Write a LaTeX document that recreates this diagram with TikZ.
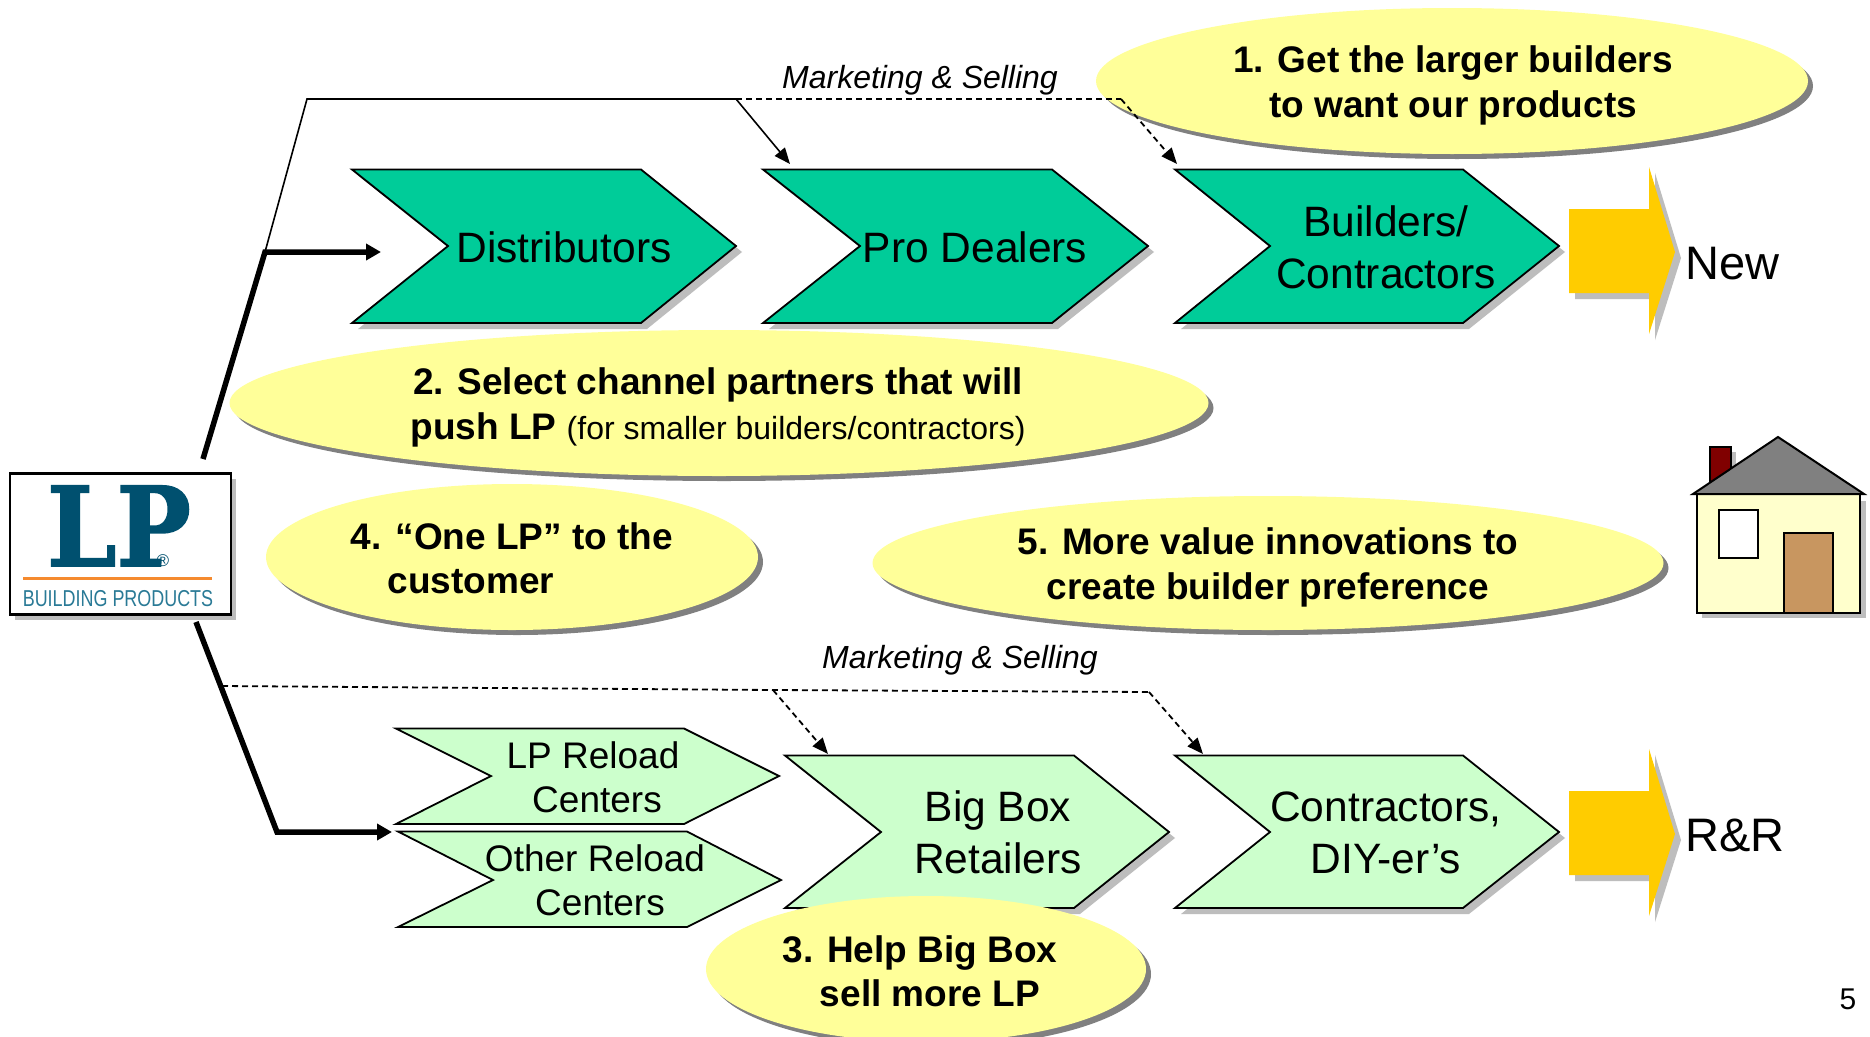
\documentclass[tikz,border=0pt]{standalone}
\usepackage{fontspec}
\setmainfont{Liberation Sans}
\newfontfamily\lpfont[BoldFeatures={FakeBold=1.5}]{DejaVu Serif}
\usetikzlibrary{arrows.meta,shapes.geometric,shadows}
\definecolor{teal1}{HTML}{00CC99}
\definecolor{mint}{HTML}{CCFFCC}
\definecolor{bubble}{HTML}{FFFF99}
\definecolor{gold}{HTML}{FFCC00}
\definecolor{shadowgray}{HTML}{BDBDBD}
\definecolor{lpblue}{HTML}{00506F}
\definecolor{lptext}{HTML}{2A7A96}
\definecolor{lporange}{HTML}{F58A2E}
\definecolor{cream}{HTML}{FFFFCC}
\definecolor{doorc}{HTML}{C89660}
\definecolor{chimney}{HTML}{800000}
\tikzset{
 x=1pt,y=-1pt,
 chevline/.style={draw=black,line width=1.8pt,line join=miter},
 bubblenode/.style={ellipse,fill=bubble,inner sep=0pt,
   drop shadow={shadow xshift=5pt,shadow yshift=-5pt,fill=black!50,opacity=1}},
 labelbig/.style={font=\fontsize{42.5}{51.5}\selectfont,align=center,inner sep=0pt},
 labelmid/.style={font=\fontsize{37}{44}\selectfont,align=center,inner sep=0pt},
 labelbold/.style={font=\fontsize{37}{45}\selectfont\bfseries,align=center,inner sep=0pt},
 labelit/.style={font=\fontsize{32}{38}\selectfont\itshape,inner sep=0pt},
 labelend/.style={font=\fontsize{47}{55}\selectfont,inner sep=0pt,anchor=base west},
 thickline/.style={line width=5.5pt,line join=miter},
 thinline/.style={line width=1.6pt},
 dashline/.style={line width=1.8pt,dash pattern=on 6pt off 4pt},
 bigtip/.style={-{Triangle[length=15pt,width=16pt]}},
 smalltip/.style={-{Triangle[length=16pt,width=13pt]}},
}
% left, notch, topright, tip, top, mid, bottom
\newcommand{\chevshadow}[7]{\fill[shadowgray] (#1+6,#5+6) -- (#3+6,#5+6) -- (#4+6,#6+6) -- (#3+6,#7+6) -- (#1+6,#7+6) -- (#2+6,#6+6) -- cycle;}
\newcommand{\chevbody}[8]{\path[chevline,fill=#8] (#1,#5) -- (#3,#5) -- (#4,#6) -- (#3,#7) -- (#1,#7) -- (#2,#6) -- cycle;}
\newcommand{\goldarrow}[1]{%
 \begin{scope}[shift={(0,#1)}]
 \fill[shadowgray] (1575,215) -- (1655,215) -- (1655,173) -- (1681,258) -- (1655,340) -- (1655,299) -- (1575,299) -- cycle;
 \fill[gold] (1569,209) -- (1649,209) -- (1649,167) -- (1675,252) -- (1649,334) -- (1649,293) -- (1569,293) -- cycle;
 \end{scope}}
\begin{document}
\begin{tikzpicture}
\useasboundingbox (0,0) rectangle (1870,1036);
\fill[white] (0,0) rectangle (1870,1036);

% chevrons, top row
\chevshadow{352}{448}{641}{736}{169.5}{246}{323}
\chevshadow{763}{860}{1052}{1148}{169.5}{246}{323}
\chevshadow{1175}{1270}{1463}{1559}{169.5}{246}{323}
\chevbody{352}{448}{641}{736}{169.5}{246}{323}{teal1}
\chevbody{763}{860}{1052}{1148}{169.5}{246}{323}{teal1}
\chevbody{1175}{1270}{1463}{1559}{169.5}{246}{323}{teal1}
\node[labelbig,anchor=base] (dist) at (564,262) {Distributors};
\node[labelbig,anchor=base] (pro) at (975,262) {Pro Dealers};
\node[labelbig,anchor=base] (build) at (1386,288) {Builders/\\Contractors};

% chevrons, bottom row
\chevbody{396}{491}{684}{779}{728.5}{776}{824}{mint}
\chevbody{398}{493}{687}{781}{831.5}{880}{927}{mint}
\chevshadow{785}{881}{1074}{1169}{755.5}{832}{908}
\chevshadow{1175}{1270}{1463}{1559}{755.5}{832}{908}
\chevbody{785}{881}{1074}{1169}{755.5}{832}{908}{mint}
\chevbody{1175}{1270}{1463}{1559}{755.5}{832}{908}{mint}
\node[labelmid,anchor=base] (lprel) at (593,768) {LP Reload};
\node[labelmid,anchor=base] (lpcen) at (597,812) {Centers};
\node[labelmid,anchor=base] (otrel) at (595,871) {Other Reload};
\node[labelmid,anchor=base] (otcen) at (600,915) {Centers};
\node[labelbig,anchor=base] (bigbox) at (998,873) {Big Box\\Retailers};
\node[labelbig,anchor=base] (contr) at (1386,873) {Contractors,\\DIY-er’s};

% outcome arrows
\goldarrow{0}
\goldarrow{582}
\node[labelend] (new) at (1685,279) {New};
\node[labelend] (rr) at (1685,851) {R\&R};

% bubbles
\node[bubblenode,minimum width=712pt,minimum height=146pt] (e1) at (1452,81) {};
\node[bubblenode,minimum width=979pt,minimum height=146pt] (e2) at (719,403) {};
\node[bubblenode,minimum width=492pt,minimum height=146pt] (e4) at (512,557) {};
\node[bubblenode,minimum width=791pt,minimum height=134pt] (e5) at (1268,563) {};
\node[bubblenode,minimum width=440pt,minimum height=146pt] (e3) at (926,969) {};
\node[labelbold,anchor=base] (t1) at (1453,117) {1. Get the larger builders\\to want our products};
\node[labelbold,anchor=base] (t2) at (718,439) {2. Select channel partners that will\\push LP {\mdseries\fontsize{32}{45}\selectfont (for smaller builders/contractors)}};
\node[labelbold,anchor=base] (t4a) at (512,549) {4. “One LP” to the};
\node[labelbold,anchor=base] (t4b) at (471,593) {customer};
\node[labelbold,anchor=base] (t5) at (1268,599) {5. More value innovations to\\create builder preference};
\node[labelbold,anchor=base] (t3a) at (920,962) {3. Help Big Box};
\node[labelbold,anchor=base] (t3b) at (930,1006) {sell more LP};

% logo
\node[draw=black,line width=2.4pt,fill=white,minimum width=221pt,minimum height=141pt,inner sep=0pt,
  drop shadow={shadow xshift=5pt,shadow yshift=-5pt,fill=shadowgray,opacity=1}] (logo) at (120.5,544) {};
\node[text=lpblue,font=\fontsize{110}{110}\selectfont\lpfont\bfseries,inner sep=0pt,anchor=base,xscale=.9] (lp) at (119,566) {LP};
\node[text=lpblue,font=\fontsize{17}{17}\selectfont,inner sep=0pt] (reg) at (163,561) {®};
\fill[lporange] (23,576.5) rectangle (212,580);
\node[text=lptext,font=\fontsize{23}{23}\selectfont,inner sep=0pt,anchor=base,xscale=.78] (bp) at (118,606) {BUILDING PRODUCTS};

% house
\begin{scope}[yshift=-1pt]
\fill[shadowgray] (1702,617) rectangle (1866,500);
\fill[shadowgray] (1731,451) rectangle (1736,478);
\path[draw=black,line width=1.6pt,fill=chimney] (1710,446) rectangle (1731,485);
\draw[line width=2pt,fill=cream] (1697,493) rectangle (1860,612);
\draw[line width=1.8pt,fill=white] (1719,509) rectangle (1758,557);
\draw[line width=2pt,fill=doorc] (1784,532) rectangle (1833,612);
\path[draw=black,line width=2pt,fill=black!50,line join=miter] (1693,493) -- (1778,436) -- (1864,493) -- cycle;
\end{scope}

% connector points
\coordinate (topstart) at (203,459);
\coordinate (topknee) at (265,252);
\coordinate (toptip) at (381,252);
\coordinate (topbend) at (307,99);
\coordinate (topsplit) at (736,99);
\coordinate (topcorner) at (1121,99);
\coordinate (protip) at (790,164);
\coordinate (buildtip) at (1177,164);
\coordinate (botstart) at (196,622);
\coordinate (botknee) at (277,832);
\coordinate (bottip) at (392,832);
\coordinate (dashstart) at (222,686);
\coordinate (dashsplit) at (773,690);
\coordinate (dashcorner) at (1149,692);
\coordinate (bigtipc) at (828,754);
\coordinate (contip) at (1203,754);

% connectors
\draw[thickline,bigtip] (topstart) -- (topknee) -- (toptip);
\draw[thinline,line join=miter] (topknee) -- (topbend) -- (topsplit);
\draw[thinline,smalltip] (topsplit) -- (protip);
\draw[dashline] (topsplit) -- (topcorner);
\draw[dashline,smalltip] (topcorner) -- (buildtip);
\draw[thickline,bigtip] (botstart) -- (botknee) -- (bottip);
\draw[dashline] (dashstart) -- (dashsplit) -- (dashcorner);
\draw[dashline,smalltip] (dashsplit) -- (bigtipc);
\draw[dashline,smalltip] (dashcorner) -- (contip);

% italic and page labels
\node[labelit,anchor=base] (ms1) at (920,88) {Marketing \& Selling};
\node[labelit,anchor=base] (ms2) at (960,668) {Marketing \& Selling};
\node[font=\fontsize{30}{36}\selectfont,inner sep=0pt,anchor=base] (page) at (1848,1009) {5};
\end{tikzpicture}
\end{document}
